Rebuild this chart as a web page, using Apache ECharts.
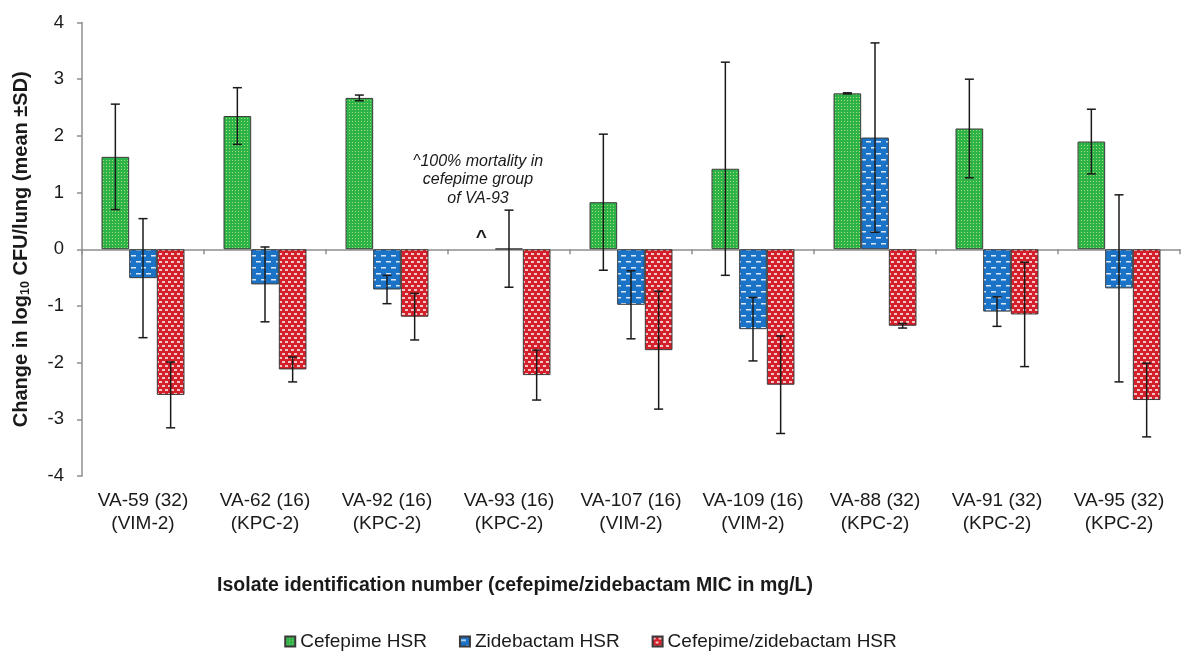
<!DOCTYPE html>
<html><head><meta charset="utf-8">
<script src="https://cdn.jsdelivr.net/npm/echarts@6/dist/echarts.min.js"></script>
<style>html,body{margin:0;padding:0;background:#fff}#c{width:1181px;height:653px}</style>
</head><body><div id="c"></div>
<script>
const categories = ['VA-59 (32)\n(VIM-2)','VA-62 (16)\n(KPC-2)','VA-92 (16)\n(KPC-2)','VA-93 (16)\n(KPC-2)','VA-107 (16)\n(VIM-2)','VA-109 (16)\n(VIM-2)','VA-88 (32)\n(KPC-2)','VA-91 (32)\n(KPC-2)','VA-95 (32)\n(KPC-2)'];
const seriesNames = ['Cefepime HSR','Zidebactam HSR','Cefepime/zidebactam HSR'];
const cefepime     = [1.63, 2.35, 2.67, null, 0.83, 1.42, 2.75, 2.13, 1.90];
const cefepimeSD   = [0.93, 0.50, 0.05, null, 1.20, 1.88, 0.01, 0.87, 0.57];
const zidebactam   = [-0.51, -0.62, -0.71, 0.01, -0.98, -1.41, 1.97, -1.10, -0.69];
const zidebactamSD = [1.05, 0.66, 0.25, 0.68, 0.60, 0.56, 1.67, 0.26, 1.65];
const combo        = [-2.57, -2.12, -1.19, -2.22, -1.78, -2.39, -1.35, -1.15, -2.66];
const comboSD      = [0.58, 0.22, 0.41, 0.44, 1.04, 0.86, 0.04, 0.92, 0.65];
const yTicks = {min: -4, max: 4, interval: 1};
const FONT = "'Liberation Sans', Arial, sans-serif";
const CAT_GAP = 0.32;

function pat(w, h, bg, fg, rects) {
  const c = document.createElement('canvas'); c.width = w; c.height = h;
  const g = c.getContext('2d'); g.fillStyle = bg; g.fillRect(0, 0, w, h);
  g.fillStyle = fg; rects.forEach(r => g.fillRect(r[0], r[1], r[2], r[3]));
  return {image: c, repeat: 'repeat'};
}
const greenPat = pat(3, 3, '#2eb34b', '#a8e06e', [[1, 1, 1, 1]]);
const bluePat = pat(10, 12, '#1b73c8', '#dce8f5', [[1, 3, 5, 1.5], [6, 9, 4, 1.5], [0, 9, 1, 1.5]]);
const redPat = pat(6, 8, '#d3202a', '#f2c4c6', [[0, 1, 3, 2], [3, 5, 3, 2]]);
const pats = [greenPat, bluePat, redPat];
const means = [cefepime, zidebactam, combo];
const sds = [cefepimeSD, zidebactamSD, comboSD];

function makeErr(idx) {
  const m = means[idx], s = sds[idx];
  const data = [];
  m.forEach((v, i) => { if (v != null) data.push([i, v - s[i], v + s[i]]); });
  return {
    type: 'custom', name: 'err' + idx, xAxisIndex: 0, yAxisIndex: 0, z: 10, silent: true,
    data: data, encode: {x: 0, y: [1, 2]},
    renderItem(params, api) {
      const c = api.value(0), lo = api.value(1), hi = api.value(2);
      const band = api.size([1, 0])[0];
      const bw = band * (1 - CAT_GAP) / 3;
      const off = (idx - 1) * bw;
      const pLo = api.coord([c, lo]), pHi = api.coord([c, hi]);
      const x = pLo[0] + off, cap = 4.5;
      const style = {stroke: '#1a1a1a', lineWidth: 1.5};
      return {type: 'group', children: [
        {type: 'line', shape: {x1: x, y1: pLo[1], x2: x, y2: pHi[1]}, style: style},
        {type: 'line', shape: {x1: x - cap, y1: pLo[1], x2: x + cap, y2: pLo[1]}, style: style},
        {type: 'line', shape: {x1: x - cap, y1: pHi[1], x2: x + cap, y2: pHi[1]}, style: style}
      ]};
    }
  };
}

const barSeries = seriesNames.map((n, i) => ({
  type: 'bar', name: n, xAxisIndex: 0, yAxisIndex: 0, data: means[i],
  barGap: '0%', barCategoryGap: (CAT_GAP * 100) + '%',
  itemStyle: {color: pats[i], borderColor: '#3a3a3a', borderWidth: 1},
  emphasis: {disabled: true}
}));
barSeries[0].markPoint = {
  symbol: 'rect', symbolSize: 0, silent: true,
  data: [{coord: [3, 0], value: '^'}],
  label: {show: true, formatter: '^', position: 'inside', offset: [0, -11], fontSize: 19, fontWeight: 'bold', color: '#1a1a1a', fontFamily: FONT}
};

const chart = echarts.init(document.getElementById('c'), null, {renderer: 'canvas'});
chart.setOption({
  animation: false,
  backgroundColor: '#fff',
  textStyle: {fontFamily: FONT},
  grid: {left: 82, right: 1, top: 22.5, bottom: 177, containLabel: false, outerBoundsMode: 'none'},
  xAxis: [
    {type: 'category', data: categories, position: 'bottom',
     axisLine: {show: false, onZero: false}, axisTick: {show: false},
     axisLabel: {interval: 0, fontSize: 19, color: '#1a1a1a', lineHeight: 23, margin: 13, fontFamily: FONT}},
    {type: 'category', data: categories, position: 'bottom',
     axisLine: {show: true, onZero: true, lineStyle: {color: '#8f8f8f', width: 1.5}},
     axisTick: {show: true, length: 5, lineStyle: {color: '#8f8f8f', width: 1.5}},
     axisLabel: {show: false}}
  ],
  yAxis: {
    type: 'value', min: yTicks.min, max: yTicks.max, interval: yTicks.interval,
    axisLine: {show: true, lineStyle: {color: '#8f8f8f', width: 1.5}},
    axisTick: {show: true, length: 5, lineStyle: {color: '#8f8f8f', width: 1.5}},
    splitLine: {show: false},
    axisLabel: {fontSize: 18.5, color: '#1a1a1a', margin: 18, fontFamily: FONT},
    name: '{a|Change in log}{s|10}{a| CFU/lung (mean ±SD)}',
    nameLocation: 'middle', nameGap: 50, nameRotate: 90,
    nameTextStyle: {rich: {
      a: {fontSize: 20, fontWeight: 'bold', color: '#1a1a1a', fontFamily: FONT, lineHeight: 22},
      s: {fontSize: 12.5, fontWeight: 'bold', color: '#1a1a1a', fontFamily: FONT, lineHeight: 12, verticalAlign: 'bottom'}
    }}
  },
  legend: {
    data: seriesNames, top: 627, left: 'center',
    itemWidth: 10, itemHeight: 10, itemGap: 32, icon: 'rect',
    textStyle: {fontSize: 19, color: '#1a1a1a', fontFamily: FONT}
  },
  graphic: [
    {type: 'text', x: 515, y: 586, style: {text: 'Isolate identification number (cefepime/zidebactam MIC in mg/L)', fontSize: 19.5, fontWeight: 'bold', fill: '#1a1a1a', fontFamily: FONT, textAlign: 'center', textVerticalAlign: 'middle'}},
    {type: 'text', x: 478, y: 180, style: {text: '^100% mortality in\ncefepime group\nof VA-93', fontSize: 16, fontStyle: 'italic', fill: '#1a1a1a', fontFamily: FONT, textAlign: 'center', textVerticalAlign: 'middle', lineHeight: 18.5}}
  ],
  series: barSeries.concat([makeErr(0), makeErr(1), makeErr(2)])
});
</script></body></html>
